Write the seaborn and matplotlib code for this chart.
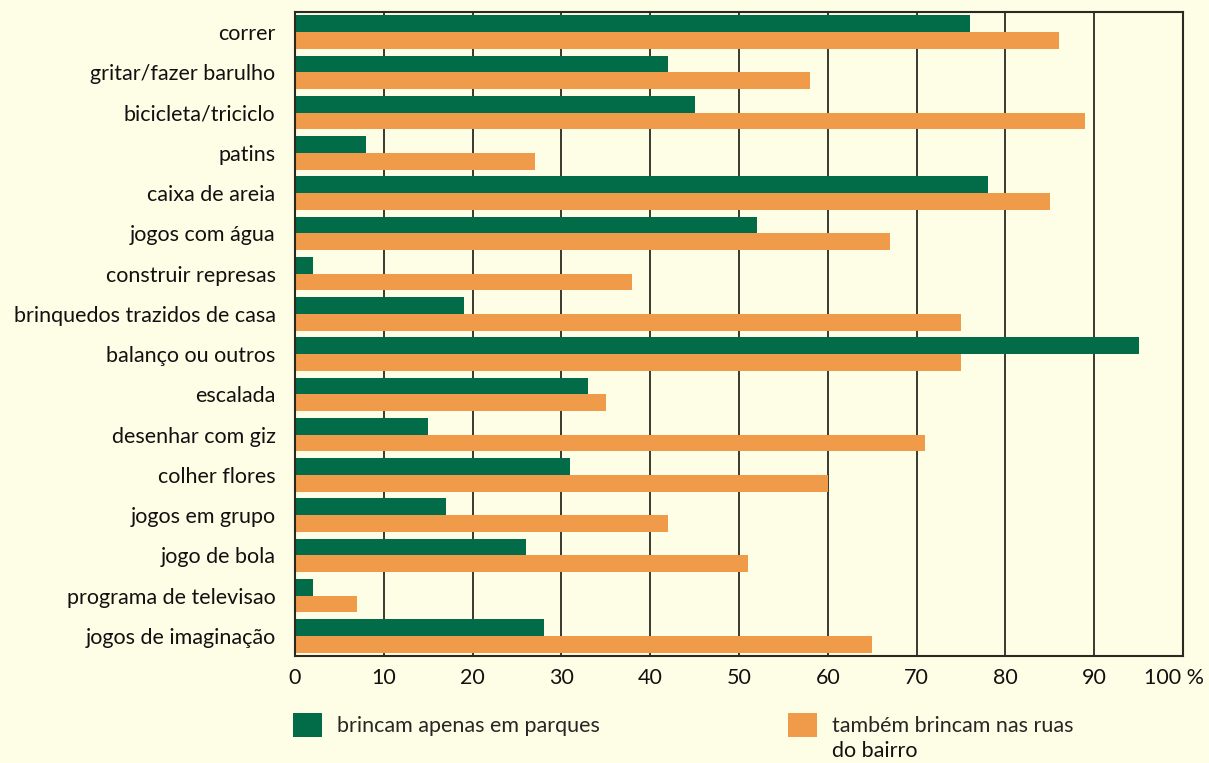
import matplotlib
matplotlib.use("Agg")
import matplotlib.pyplot as plt
import matplotlib.transforms as mtransforms
from matplotlib.patches import Patch
import seaborn as sns
import pandas as pd

categories = [
    "correr", "gritar/fazer barulho", "bicicleta/triciclo", "patins",
    "caixa de areia", "jogos com água", "construir represas",
    "brinquedos trazidos de casa", "balanço ou outros", "escalada",
    "desenhar com giz", "colher flores", "jogos em grupo", "jogo de bola",
    "programa de televisao", "jogos de imaginação",
]
parques = [76, 42, 45, 8, 78, 52, 2, 19, 95, 33, 15, 31, 17, 26, 2, 28]
ruas = [86, 58, 89, 27, 85, 67, 38, 75, 75, 35, 71, 60, 42, 51, 7, 65]
series_names = ["brincam apenas em parques", "também brincam nas ruas"]
series_extra_line = "do bairro"
x_ticks = [0, 10, 20, 30, 40, 50, 60, 70, 80, 90, 100]
x_tick_labels = ["0", "10", "20", "30", "40", "50", "60", "70", "80", "90", "100 %"]

GREEN = "#026B47"
ORANGE = "#EF9B4A"
BG = "#FEFEE6"
LINE = "#2a2a22"
FS = 15.5

df = pd.DataFrame({
    "atividade": categories * 2,
    "valor": parques + ruas,
    "grupo": [series_names[0]] * len(categories) + [series_names[1]] * len(categories),
})

sns.set_theme(style="white")
plt.rcParams["font.family"] = ["Lato", "DejaVu Sans"]

W, H = 1209, 763
fig = plt.figure(figsize=(W / 100, H / 100), dpi=100, facecolor=BG)
ax = fig.add_axes([295 / W, 1 - 656 / H, (1183 - 295) / W, (656 - 12) / H])
ax.set_facecolor(BG)

sns.barplot(
    data=df, x="valor", y="atividade", hue="grupo", order=categories,
    hue_order=series_names, palette=[GREEN, ORANGE], orient="h",
    width=0.83, saturation=1, legend=False, ax=ax, linewidth=0,
)

ax.set_xlim(0, 100)
ax.set_xticks(x_ticks)
ax.set_xticklabels(x_tick_labels)
ax.set_xlabel("")
ax.set_ylabel("")
ax.set_axisbelow(True)
ax.grid(axis="x", color=LINE, linewidth=1.3)
ax.grid(axis="y", visible=False)
for s in ax.spines.values():
    s.set_visible(True)
    s.set_color(LINE)
    s.set_linewidth(1.5)
ax.tick_params(axis="both", length=0, labelsize=FS, labelcolor="#111111")
ax.tick_params(axis="x", pad=9)
ax.tick_params(axis="y", pad=14)

# shift the last x tick label ("100 %") a little left so it stays inside the figure
last = ax.get_xticklabels()[-1]
last.set_transform(last.get_transform() + mtransforms.ScaledTranslation(-9 / 100, 0, fig.dpi_scale_trans))

leg_kw = dict(
    loc="upper left", bbox_transform=fig.transFigure, frameon=False, fontsize=FS,
    handlelength=1.35, handleheight=1.35, handletextpad=0.7,
    borderpad=0, borderaxespad=0,
)
green_leg = ax.legend(
    handles=[Patch(facecolor=GREEN, edgecolor="none")], labels=[series_names[0]],
    bbox_to_anchor=(293 / W, 1 - 713 / H), **leg_kw,
)
ax.add_artist(green_leg)
orange_leg = ax.legend(
    handles=[Patch(facecolor=ORANGE, edgecolor="none")], labels=[series_names[1]],
    bbox_to_anchor=(788 / W, 1 - 713 / H), **leg_kw,
)

fig.canvas.draw()
txt = orange_leg.get_texts()[0]
bb = txt.get_window_extent()
fig.text(bb.x0 / W, (bb.y0 - 25) / H, series_extra_line, fontsize=FS,
         color="#111111", ha="left", va="bottom")

fig.savefig("out.png", dpi=100, facecolor=BG)
